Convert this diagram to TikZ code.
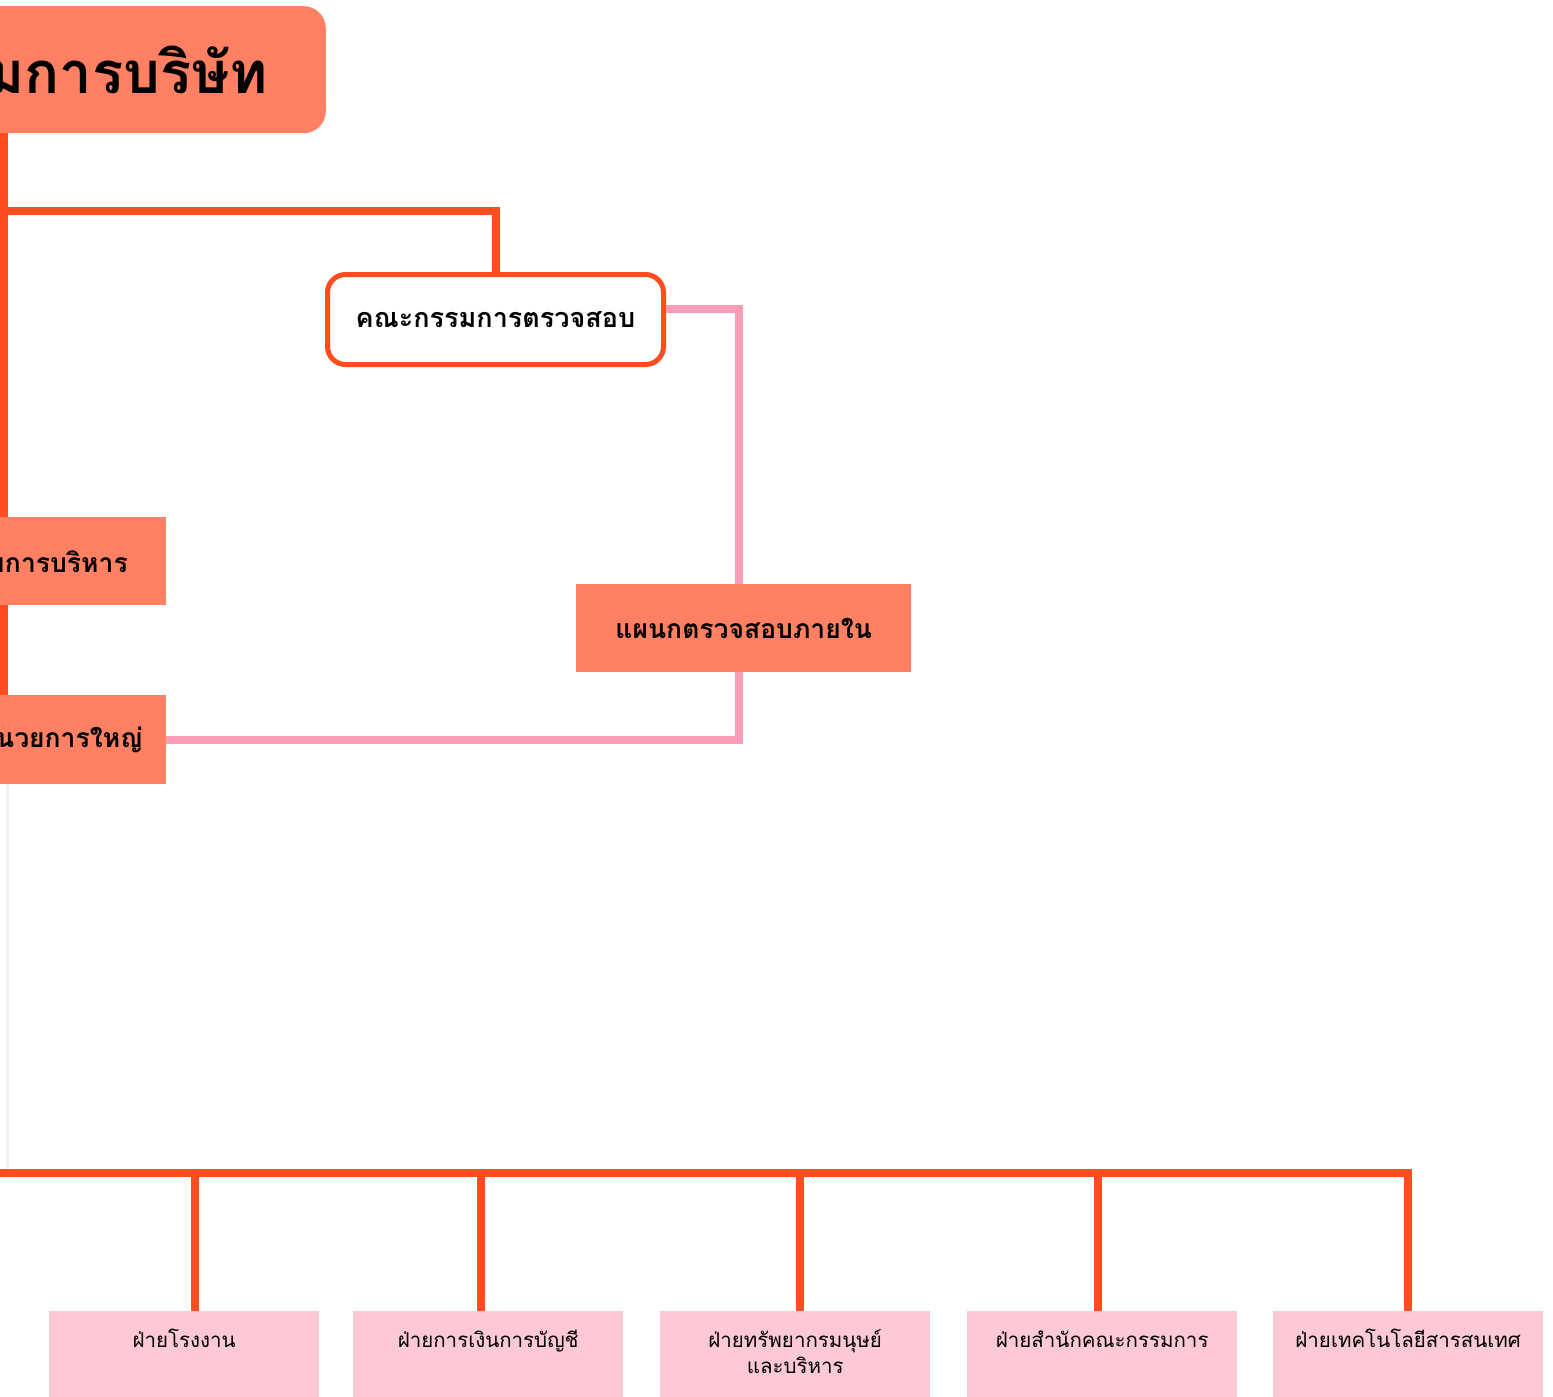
\documentclass[tikz,border=0pt]{standalone}
\usepackage{fontspec}
\newfontfamily\thaifont[Script=Thai]{Loma}
\definecolor{boxfill}{HTML}{FF8062}
\definecolor{linkorange}{HTML}{FF4D1F}
\definecolor{linkpink}{HTML}{F89CB7}
\definecolor{divfill}{HTML}{FCC9D5}
\definecolor{faint}{HTML}{F3F0EE}
\tikzset{
  orgline/.style={draw=linkorange, line width=8pt},
  auditline/.style={draw=linkpink, line width=8pt},
  leadbox/.style={fill=boxfill, rectangle, inner ysep=0pt, align=right,
    font=\thaifont\bfseries},
  auditbox/.style={draw=linkorange, line width=5pt, fill=white, rounded corners=18pt,
    rectangle, minimum width=336pt, minimum height=90pt, inner sep=0pt,
    font=\thaifont\bfseries\fontsize{27}{32}\selectfont},
  unitbox/.style={fill=boxfill, rectangle, minimum width=335pt, minimum height=88pt,
    inner sep=0pt, font=\thaifont\bfseries\fontsize{26.5}{32}\selectfont},
  divbox/.style={fill=divfill, rectangle, inner sep=0pt,
    font=\thaifont\fontsize{20.5}{26}\selectfont},
}
\newcommand{\divtext}[1]{\parbox[c][100pt][t]{270pt}{\centering\rule{0pt}{36pt}#1}}
\begin{document}
\begin{tikzpicture}[x=1pt,y=-1pt]
\useasboundingbox (0,0) rectangle (1553,1397);
\clip (0,0) rectangle (1553,1397);
\fill[white] (0,0) rectangle (1553,1397);

% spine and branch points
\coordinate (spine) at (4,0);
\coordinate (branch) at (4,211);
\coordinate (bus) at (-6,1173);

% board of directors
\node[leadbox, rounded corners=22pt, anchor=north east, minimum height=127pt,
      text width=520pt, inner xsep=58pt,
      font=\thaifont\bfseries\fontsize{58}{64}\selectfont]
  (board) at (326,6) {คณะกรรมการบริษัท};

% executive committee and CEO
\node[leadbox, anchor=north east, minimum height=88pt, text width=400pt,
      inner xsep=38pt, font=\thaifont\bfseries\fontsize{26.5}{32}\selectfont]
  (exec) at (166,517) {คณะกรรมการบริหาร};
\node[leadbox, anchor=north east, minimum height=89pt, text width=400pt,
      inner xsep=23pt, font=\thaifont\bfseries\fontsize{26.5}{32}\selectfont]
  (ceo) at (166,695) {กรรมการผู้อำนวยการใหญ่};

% audit committee and internal audit
\node[auditbox, anchor=north west] (audit) at (325,272) {คณะกรรมการตรวจสอบ};
\node[unitbox, anchor=north west] (internal) at (576,584) {แผนกตรวจสอบภายใน};

% divisions
\node[divbox, anchor=north west] (d1) at (49,1311) {\divtext{ฝ่ายโรงงาน}};
\node[divbox, anchor=north west] (d2) at (353,1311) {\divtext{ฝ่ายการเงินการบัญชี}};
\node[divbox, anchor=north west] (d3) at (660,1311) {\divtext{ฝ่ายทรัพยากรมนุษย์\\และบริหาร}};
\node[divbox, anchor=north west] (d4) at (967,1311) {\divtext{ฝ่ายสำนักคณะกรรมการ}};
\node[divbox, anchor=north west] (d5) at (1273,1311) {\divtext{ฝ่ายเทคโนโลยีสารสนเทศ}};

% reporting lines
\draw[orgline] (board.south -| spine) -- (exec.north -| spine);
\draw[orgline] (branch) -| (audit.north);
\draw[orgline] (exec.south -| spine) -- (ceo.north -| spine);
\draw[draw=faint, line width=3pt] ([xshift=3pt]ceo.south -| spine) -- ([xshift=3pt]bus -| spine);
\draw[orgline] (bus) -| (d5.north);
\draw[orgline] ([xshift=11pt]d1.north) -- ([xshift=11pt]d1.north |- bus);
\draw[orgline] ([xshift=-7pt]d2.north) -- ([xshift=-7pt]d2.north |- bus);
\draw[orgline] ([xshift=5pt]d3.north) -- ([xshift=5pt]d3.north |- bus);
\draw[orgline] ([xshift=-4pt]d4.north) -- ([xshift=-4pt]d4.north |- bus);

% internal audit lines
\draw[auditline] ([yshift=11pt]audit.east) -| ([xshift=-5pt]internal.north);
\draw[auditline] ([xshift=-5pt]internal.south) |- (ceo.east);
\end{tikzpicture}
\end{document}
